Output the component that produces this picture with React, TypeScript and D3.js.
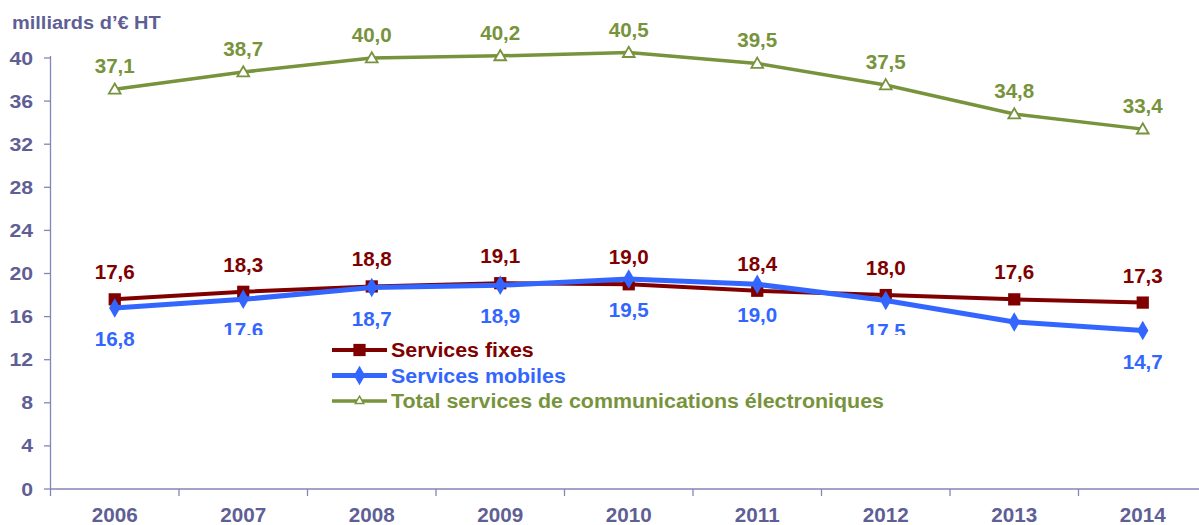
import React from "react";
import * as d3 from "d3";

const years = ["2006", "2007", "2008", "2009", "2010", "2011", "2012", "2013", "2014"];
const fixes = [17.6, 18.3, 18.8, 19.1, 19.0, 18.4, 18.0, 17.6, 17.3];
const mobiles = [16.8, 17.6, 18.7, 18.9, 19.5, 19.0, 17.5, 15.5, 14.7];
const total = [37.1, 38.7, 40.0, 40.2, 40.5, 39.5, 37.5, 34.8, 33.4];
const yTicks = [0, 4, 8, 12, 16, 20, 24, 28, 32, 36, 40];
const legendLabels = ["Services fixes", "Services mobiles", "Total services de communications électroniques"];

const W = 1199;
const H = 525;
const AXIS = "#5f5f96";
const AXIS_LINE = "#8585b8";
const C_FIX = "#800000";
const C_MOB = "#3366ff";
const C_TOT = "#77933c";
const FONT = "'Liberation Sans', Arial, sans-serif";

const fmt = (v: number) => v.toFixed(1).replace(".", ",");

function T(props: {
  x: number;
  y: number;
  sx?: number;
  size: number;
  fill: string;
  anchor?: "start" | "middle" | "end";
  children: React.ReactNode;
}) {
  const { x, y, sx = 1, size, fill, anchor = "start", children } = props;
  return (
    <text
      transform={`translate(${x},${y}) scale(${sx},1)`}
      textAnchor={anchor}
      fontSize={size}
      fill={fill}
    >
      {children}
    </text>
  );
}

export default function App() {
  const x = d3.scaleBand<string>().domain(years).range([50.5, 50.5 + 128.5 * 9]);
  const y = d3.scaleLinear().domain([0, 40]).range([489, 58]);
  const cx = (yr: string) => (x(yr) as number) + x.bandwidth() / 2;
  const line = d3
    .line<number>()
    .x((_, i) => cx(years[i]))
    .y((d) => y(d));

  const tri = d3.symbol().type(d3.symbolTriangle).size(60)();
  const sq = d3.symbol().type(d3.symbolSquare).size(150)();
  const dia = d3.symbol().type(d3.symbolDiamond).size(110)();

  const legendX0 = 332;
  const legendX1 = 387;
  const legendRows = [350, 375.5, 401];
  const legendColors = [C_FIX, C_MOB, C_TOT];

  return (
    <svg
      width={W}
      height={H}
      style={{ position: "absolute", left: 0, top: 0, background: "#fff" }}
      fontFamily={FONT}
      fontWeight="bold"
    >
      <rect x={0} y={0} width={W} height={H} fill="#fff" />
      {/* Axis title */}
      <T x={12} y={29} sx={1.08} size={18.5} fill={AXIS}>
        milliards d’€ HT
      </T>
      {/* Y axis */}
      <line x1={50.5} x2={50.5} y1={y(40) - 2} y2={y(0)} stroke={AXIS_LINE} strokeWidth={1.3} />
      {yTicks.map((t) => (
        <g key={t}>
          <line x1={44} x2={50.5} y1={y(t)} y2={y(t)} stroke={AXIS_LINE} strokeWidth={1.3} />
          <T x={33} y={y(t) + 6.5} sx={1.18} anchor="end" size={18} fill={AXIS}>
            {t}
          </T>
        </g>
      ))}
      {/* X axis */}
      <line x1={50.5} x2={W} y1={y(0)} y2={y(0)} stroke={AXIS_LINE} strokeWidth={1.3} />
      {years.map((yr) => (
        <g key={yr}>
          <line
            x1={x(yr) as number}
            x2={x(yr) as number}
            y1={y(0)}
            y2={y(0) + 7}
            stroke={AXIS_LINE}
            strokeWidth={1.3}
          />
          <T x={cx(yr)} y={522} sx={1.06} anchor="middle" size={19.5} fill={AXIS}>
            {yr}
          </T>
        </g>
      ))}

      {/* Total series */}
      <path d={line(total) || ""} fill="none" stroke={C_TOT} strokeWidth={3.5} />
      {total.map((v, i) => (
        <path
          key={"t" + i}
          d={tri}
          transform={`translate(${cx(years[i])},${y(v) + 1})`}
          fill="#fff"
          stroke={C_TOT}
          strokeWidth={1.8}
        />
      ))}
      {/* Fixes series */}
      <path d={line(fixes) || ""} fill="none" stroke={C_FIX} strokeWidth={4} />
      {fixes.map((v, i) => (
        <path key={"f" + i} d={sq} transform={`translate(${cx(years[i])},${y(v)})`} fill={C_FIX} />
      ))}
      {/* Mobiles series */}
      <path d={line(mobiles) || ""} fill="none" stroke={C_MOB} strokeWidth={5} />
      {mobiles.map((v, i) => (
        <path key={"m" + i} d={dia} transform={`translate(${cx(years[i])},${y(v)})`} fill={C_MOB} />
      ))}

      {/* Data labels */}
      {total.map((v, i) => (
        <T key={"lt" + i} x={cx(years[i])} y={y(v) - 16} sx={1.03} anchor="middle" size={20} fill={C_TOT}>
          {fmt(v)}
        </T>
      ))}
      {fixes.map((v, i) => (
        <T key={"lf" + i} x={cx(years[i])} y={y(v) - 20} sx={1.03} anchor="middle" size={20} fill={C_FIX}>
          {fmt(v)}
        </T>
      ))}
      {mobiles.map((v, i) => (
        <T key={"lm" + i} x={cx(years[i])} y={y(v) + 38} sx={1.03} anchor="middle" size={20} fill={C_MOB}>
          {fmt(v)}
        </T>
      ))}

      {/* Legend */}
      <rect x={205} y={335} width={840} height={80} fill="#fff" />
      {legendLabels.map((lab, i) => {
        const ly = legendRows[i];
        const mx = (legendX0 + legendX1) / 2;
        const c = legendColors[i];
        return (
          <g key={lab}>
            <line x1={legendX0} x2={legendX1} y1={ly} y2={ly} stroke={c} strokeWidth={i === 1 ? 5 : i === 0 ? 4 : 3.5} />
            {i === 0 && <path d={sq} transform={`translate(${mx},${ly})`} fill={c} />}
            {i === 1 && <path d={dia} transform={`translate(${mx},${ly})`} fill={c} />}
            {i === 2 && (
              <path
                d={d3.symbol().type(d3.symbolTriangle).size(30)() || ""}
                transform={`translate(${mx},${ly})`}
                fill="#fff"
                stroke={c}
                strokeWidth={1.5}
              />
            )}
            <T x={391} y={ly + 7} sx={1.07} size={20} fill={c}>
              {lab}
            </T>
          </g>
        );
      })}
    </svg>
  );
}
